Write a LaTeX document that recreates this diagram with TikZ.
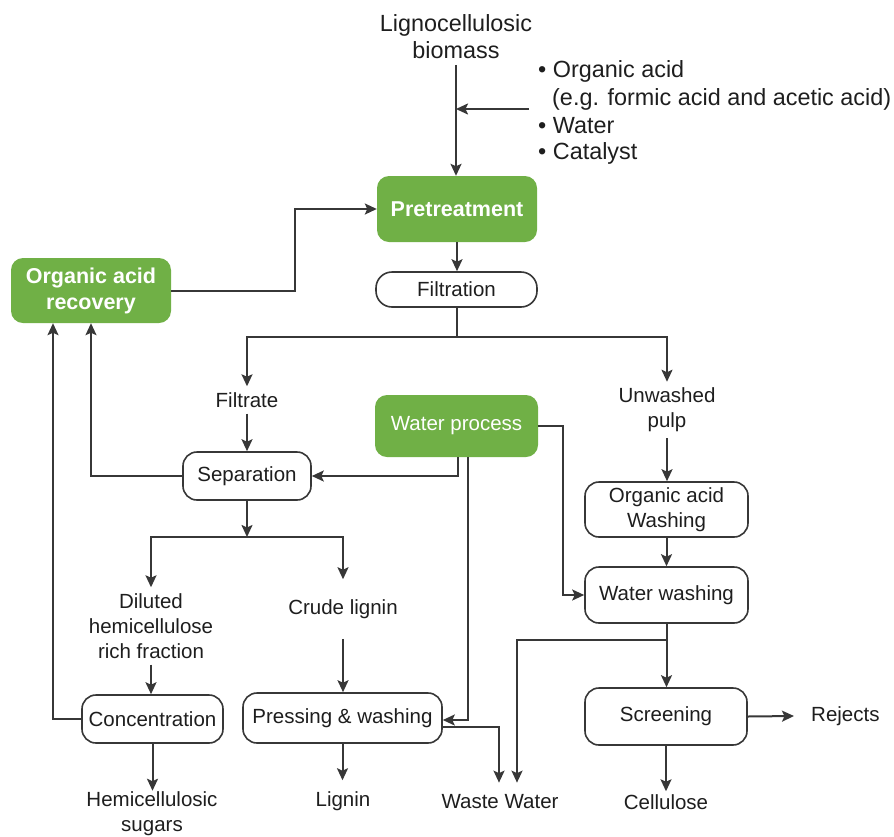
\documentclass[tikz,border=0pt]{standalone}
\usepackage{fontspec}
\setmainfont{Liberation Sans}
\usetikzlibrary{arrows.meta}
\definecolor{leaf}{RGB}{112,176,70}
\definecolor{ink}{RGB}{30,30,30}
\definecolor{linegray}{RGB}{55,55,55}
\begin{document}
\begin{tikzpicture}[x=1pt,y=-1pt,
  font=\fontsize{20.5}{25}\selectfont, text=ink,
  big/.style={font=\fontsize{23.4}{27}\selectfont},
  box/.style={draw=linegray, line width=1.6pt, rounded corners=14pt, fill=white, align=center, inner sep=0pt},
  gbox/.style={fill=leaf, rounded corners=12pt, text=white, align=center, inner sep=0pt},
  strong/.style={font=\fontsize{21.5}{26}\selectfont\bfseries},
  lbl/.style={align=center, inner xsep=2pt, inner ysep=6pt},
  link/.style={draw=linegray, line width=2pt},
  flow/.style={link, -{Stealth[length=12pt,width=11pt,inset=2.5pt]}}
]
\useasboundingbox (0,0) rectangle (894,836);

% process boxes
\node[gbox, strong, minimum width=160pt, minimum height=66pt] (pre) at (457,209) {Pretreatment};
\node[gbox, strong, minimum width=160pt, minimum height=65pt] (rec) at (91,290.5) {Organic acid\\recovery};
\node[box, minimum width=161pt, minimum height=35pt, rounded corners=16pt] (filt) at (456.5,289.5) {Filtration};
\node[gbox, minimum width=163pt, minimum height=62pt] (wp) at (456.5,426) {Water process};
\node[box, minimum width=128pt, minimum height=48pt] (sep) at (247,476) {Separation};
\node[box, minimum width=163pt, minimum height=55pt] (oaw) at (666.5,509.5) {Organic acid\\Washing};
\node[box, minimum width=163pt, minimum height=56pt] (ww) at (666.5,595) {Water washing};
\node[box, minimum width=141pt, minimum height=48pt] (conc) at (152.5,719) {Concentration};
\node[box, minimum width=199pt, minimum height=50pt] (press) at (342.5,718) {Pressing \& washing};
\node[box, minimum width=162pt, minimum height=57pt] (scr) at (666,716.5) {Screening};

% streams and products
\node[lbl, big] (lig) at (456,36.5) {Lignocellulosic\\biomass};
\node[big, anchor=west, inner sep=0pt] (b1) at (538,71) {• Organic acid};
\node[big, anchor=west, inner sep=0pt] (eg) at (552,99) {(e.g. formic acid and acetic acid)};
\node[big, anchor=west, inner sep=0pt] (b2) at (538,126) {• Water};
\node[big, anchor=west, inner sep=0pt] (b3) at (538,153) {• Catalyst};
\node[lbl] (filtrate) at (247,400) {Filtrate};
\node[lbl] (unw) at (667,410) {Unwashed\\pulp};
\node[lbl] (dil) at (151,626) {Diluted\\hemicellulose\\rich fraction};
\node[lbl, inner ysep=20pt] (crude) at (343,609) {Crude lignin};
\node[lbl, inner ysep=1pt] (hemi) at (152,814) {Hemicellulosic\\sugars};
\node[lbl, inner ysep=11pt] (lignin) at (343,801) {Lignin};
\node[lbl, inner ysep=12pt] (waste) at (500,802) {Waste Water};
\node[lbl, inner ysep=3pt] (cell) at (666,802) {Cellulose};
\node[anchor=west, inner xsep=17pt, inner ysep=0pt] (rej) at (794,716) {Rejects};

% junction points
\coordinate (feed) at (529,109);
\coordinate (mix) at (456,109);
\coordinate (split1) at (456.5,337);
\coordinate (split2) at (247,537);
\coordinate (split3) at (666.5,640);

% connectors
\draw[flow] (lig.south) -- (lig.south |- pre.north);
\draw[flow] (feed) -- (mix);
\draw[flow] (rec.east) -- ++(124,0) |- (pre.west);
\draw[flow] (pre.south) -- (pre.south |- filt.north);
\draw[link] (filt.south) -- (split1);
\draw[flow] (split1) -| (filtrate.north);
\draw[flow] (split1) -| (unw.north);
\draw[flow] (filtrate.south) -- (sep.north);
\draw[flow] (sep.west) -| (rec.south);
\draw[flow] ([xshift=1.5pt]wp.south) |- (sep.east);
\draw[flow] ([xshift=11.5pt]wp.south) |- ([yshift=-2pt]press.east);
\draw[flow] (wp.east) -- ++(25,0) |- (ww.west);
\draw[flow] (sep.south) -- (split2);
\draw[flow] (split2) -| (dil.north);
\draw[flow] (split2) -| (crude.north);
\draw[flow] (dil.south) -- (dil.south |- conc.north);
\draw[flow] (crude.south) -- (crude.south |- press.north);
\draw[flow] (conc.west) -| ([xshift=-38pt]rec.south);
\draw[flow] (conc.south) -- (conc.south |- hemi.north);
\draw[flow] (press.south) -- (press.south |- lignin.north);
\draw[flow] ([yshift=-9pt]press.east) -| ([xshift=-1pt]waste.north);
\draw[flow] (unw.south) -- (unw.south |- oaw.north);
\draw[flow] (oaw.south) -- (oaw.south |- ww.north);
\draw[flow] (ww.south) -- (ww.south |- scr.north);
\draw[flow] (split3) -| ([xshift=17pt]waste.north);
\draw[flow] (scr.east) -- (rej.west);
\draw[flow] (scr.south) -- (scr.south |- cell.north);
\end{tikzpicture}
\end{document}
